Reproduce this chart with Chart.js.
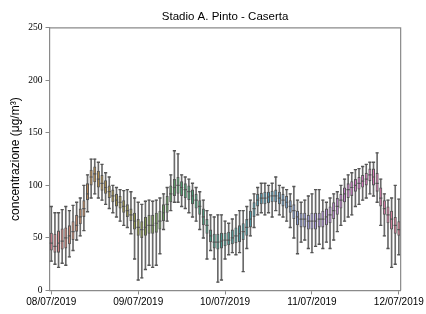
<!DOCTYPE html>
<html>
<head>
<meta charset="utf-8">
<script src="https://cdn.jsdelivr.net/npm/chart.js@4/dist/chart.umd.min.js"></script>
<style>
  html, body { margin: 0; padding: 0; background: #fff; }
  #wrap { width: 426px; height: 314px; }
</style>
</head>
<body>
<div id="wrap"><canvas id="chart" width="426" height="314"></canvas></div>
<script>
// hourly boxes, 08/07/2019 00:00 -> 12/07/2019 00:00
const dayLabels = ['08/07/2019', '09/07/2019', '10/07/2019', '11/07/2019', '12/07/2019'];

const whiskerLow = [28, 25, 22, 26, 24, 32, 38, 48, 52, 57, 75, 88, 92, 88, 86, 82, 78, 74, 70, 66,
  62, 60, 54, 30, 10, 12, 20, 24, 22, 24, 35, 58, 66, 76, 84, 84, 80, 78, 74, 70,
  66, 58, 50, 30, 38, 30, 8, 10, 30, 34, 36, 34, 36, 18, 40, 52, 60, 72, 74, 72,
  74, 70, 76, 72, 70, 66, 60, 50, 35, 46, 48, 40, 36, 42, 44, 40, 46, 40, 48, 56,
  62, 66, 70, 72, 80, 82, 86, 88, 92, 90, 84, 62, 52, 40, 22, 25, 34];
const q1 = [38, 36, 36, 39, 40, 44, 48, 56, 63, 70, 86, 100, 103, 98, 95, 92, 88, 84, 80, 78,
  74, 70, 66, 58, 52, 50, 52, 54, 54, 55, 58, 66, 74, 84, 90, 92, 90, 88, 86, 82,
  78, 72, 62, 54, 46, 40, 39, 40, 42, 43, 44, 45, 46, 48, 52, 60, 70, 80, 82, 82,
  83, 84, 84, 82, 80, 78, 74, 68, 62, 60, 60, 58, 58, 58, 60, 60, 62, 64, 68, 72,
  78, 84, 88, 90, 94, 96, 98, 100, 104, 100, 94, 80, 72, 64, 58, 54, 52];
const median = [45, 42, 45, 47, 50, 52, 56, 62, 70, 78, 92, 108, 111, 106, 102, 98, 94, 90, 86, 84,
  80, 76, 72, 66, 60, 58, 60, 62, 62, 64, 66, 74, 82, 92, 98, 100, 98, 96, 94, 90,
  86, 80, 70, 62, 52, 46, 46, 47, 48, 48, 50, 52, 54, 56, 60, 68, 78, 86, 88, 88,
  89, 90, 90, 88, 86, 84, 80, 76, 70, 68, 68, 66, 66, 66, 68, 68, 70, 72, 76, 80,
  86, 92, 96, 98, 100, 102, 104, 106, 110, 108, 102, 88, 78, 72, 68, 62, 58];
const q3 = [55, 54, 57, 59, 60, 62, 66, 72, 78, 86, 102, 115, 118, 114, 110, 105, 100, 96, 92, 90,
  86, 82, 78, 74, 68, 66, 70, 72, 72, 74, 76, 82, 90, 100, 106, 108, 104, 102, 100, 96,
  92, 86, 78, 68, 58, 54, 54, 55, 55, 56, 58, 60, 62, 64, 68, 76, 84, 92, 93, 94,
  94, 95, 96, 94, 92, 90, 86, 82, 76, 74, 74, 72, 74, 74, 74, 76, 78, 80, 84, 88,
  92, 98, 102, 104, 106, 108, 110, 112, 116, 116, 112, 98, 86, 80, 76, 70, 66];
const whiskerHigh = [80, 74, 74, 77, 80, 76, 81, 84, 88, 100, 110, 125, 125, 122, 120, 112, 108, 100, 98, 96,
  95, 96, 94, 88, 84, 82, 85, 86, 85, 86, 88, 92, 98, 110, 133, 130, 110, 108, 106, 102,
  98, 94, 86, 76, 72, 70, 72, 72, 66, 64, 68, 72, 76, 76, 80, 86, 92, 98, 102, 102,
  100, 102, 108, 100, 98, 96, 92, 99, 86, 84, 86, 90, 92, 96, 96, 86, 84, 88, 92, 94,
  100, 106, 110, 112, 115, 116, 118, 120, 122, 122, 131, 106, 92, 86, 88, 100, 87];

const nBoxes = median.length;
const hourLabels = [];
for (let i = 0; i < nBoxes; i++) {
    const hh = String(i % 24).padStart(2, '0');
    hourLabels.push(dayLabels[Math.floor(i / 24)] + ' ' + hh + ':00');
}

// seaborn husl palette, desaturated like boxplot does
const huslStops = ['#f77189', '#ce9032', '#97a431', '#32b166', '#36ada4', '#39a7d0', '#a48cf4', '#f561dd'];

function hexToRgb(hex) {
    return [1, 3, 5].map(k => parseInt(hex.slice(k, k + 2), 16) / 255);
}

function boxColor(i) {
    const t = i * huslStops.length / nBoxes;
    const k = Math.floor(t);
    const f = t - k;
    const a = hexToRgb(huslStops[k % huslStops.length]);
    const b = hexToRgb(huslStops[(k + 1) % huslStops.length]);
    const c = a.map((v, j) => v + (b[j] - v) * f);
    const l = (Math.max(...c) + Math.min(...c)) / 2;
    const d = c.map(v => Math.round((l + 0.75 * (v - l)) * 255));
    return `rgb(${d[0]},${d[1]},${d[2]})`;
}

const colors = median.map((_, i) => boxColor(i));
const GRAY = '#555555';
const WHISKER = '#6a6a6a';
const FRAME = '#8a8a8a';

// top and right spines
const framePlugin = {
    id: 'frame',
    afterDraw(chart) {
        const { ctx, chartArea } = chart;
        ctx.save();
        ctx.strokeStyle = FRAME;
        ctx.lineWidth = 1.2;
        ctx.beginPath();
        ctx.moveTo(chartArea.left, chartArea.top);
        ctx.lineTo(chartArea.right, chartArea.top);
        ctx.lineTo(chartArea.right, chartArea.bottom);
        ctx.stroke();
        ctx.restore();
    }
};

const ctx = document.getElementById('chart').getContext('2d');
new Chart(ctx, {
    type: 'bar',
    data: {
        labels: hourLabels,
        datasets: [
            {
                type: 'line',
                label: 'median',
                data: median,
                showLine: false,
                pointStyle: 'line',
                pointRadius: 1.6,
                pointBorderWidth: 1.2,
                pointBorderColor: GRAY,
                order: 0
            },
            {
                type: 'line',
                label: 'cap high',
                data: whiskerHigh,
                showLine: false,
                pointStyle: 'line',
                pointRadius: 1.6,
                pointBorderWidth: 1.4,
                pointBorderColor: GRAY,
                order: 1
            },
            {
                type: 'line',
                label: 'cap low',
                data: whiskerLow,
                showLine: false,
                pointStyle: 'line',
                pointRadius: 1.6,
                pointBorderWidth: 1.4,
                pointBorderColor: GRAY,
                order: 1
            },
            {
                label: 'box',
                data: q1.map((v, i) => [v, q3[i]]),
                backgroundColor: colors,
                borderColor: GRAY,
                borderWidth: 1.1,
                borderSkipped: false,
                barPercentage: 0.85,
                categoryPercentage: 1,
                grouped: false,
                order: 2
            },
            {
                label: 'whisker',
                data: whiskerLow.map((v, i) => [v, whiskerHigh[i]]),
                backgroundColor: WHISKER,
                borderWidth: 0,
                barThickness: 1,
                grouped: false,
                order: 3
            }
        ]
    },
    options: {
        responsive: false,
        animation: false,
        events: [],
        layout: { padding: { left: 0, right: 23, top: 0, bottom: 0 } },
        plugins: {
            legend: { display: false },
            tooltip: { enabled: false },
            title: {
                display: true,
                fullSize: false,
                text: 'Stadio A. Pinto - Caserta',
                color: '#000',
                font: { family: 'Liberation Sans', size: 11.5, weight: 'normal' },
                padding: { top: 10, bottom: 4 }
            }
        },
        scales: {
            x: {
                offset: true,
                afterFit(scale) { scale.height = 23.5; },
                grid: { offset: false, drawOnChartArea: false, tickColor: FRAME, tickLength: 4, tickWidth: 1 },
                border: { display: true, color: FRAME, width: 1.2 },
                ticks: {
                    autoSkip: false,
                    maxRotation: 0,
                    padding: 2,
                    color: '#000',
                    font: { family: 'Liberation Sans', size: 10 },
                    callback(value, index) {
                        return index % 24 === 0 ? dayLabels[index / 24] : null;
                    }
                }
            },
            y: {
                min: 0,
                max: 250,
                afterFit(scale) { scale.width = 49.5; },
                grid: { drawOnChartArea: false, tickColor: FRAME, tickLength: 4, tickWidth: 1 },
                border: { display: true, color: FRAME, width: 1.2 },
                ticks: {
                    stepSize: 50,
                    padding: 3,
                    color: '#000',
                    font: { family: 'Liberation Serif', size: 9.5 }
                },
                title: {
                    display: true,
                    text: 'concentrazione (μg/m³)',
                    color: '#000',
                    font: { family: 'Liberation Sans', size: 12 },
                    padding: { top: 8, bottom: 0 }
                }
            }
        }
    },
    plugins: [framePlugin]
});
</script>
</body>
</html>
